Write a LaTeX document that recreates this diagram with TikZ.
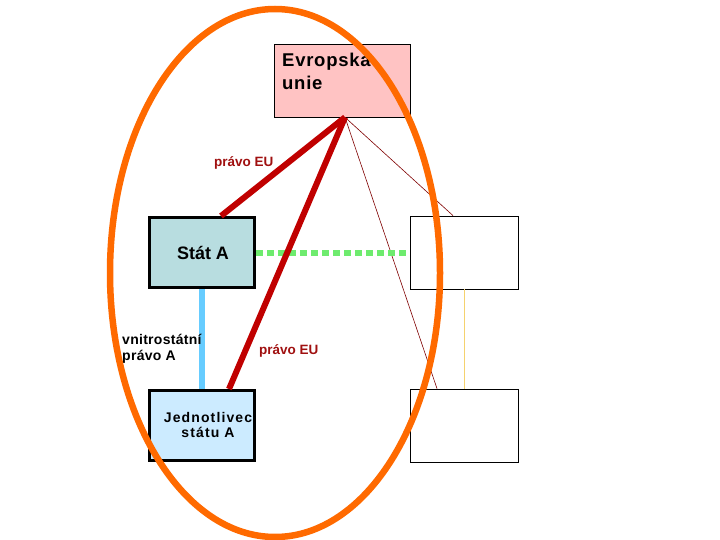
\documentclass[tikz,border=0pt]{standalone}
\usepackage{fontspec}
\setmainfont{Liberation Sans}
\begin{document}
\begin{tikzpicture}[x=1pt,y=-1pt,
  box/.style={draw=black,rectangle,inner sep=0pt},
  thickbox/.style={box,line width=3pt,minimum width=105pt,minimum height=70pt},
  thinbox/.style={box,line width=0.8pt,minimum width=108pt,minimum height=73pt,fill=white},
  redlink/.style={draw={rgb,255:red,192;green,0;blue,0},line width=6pt},
  thinlink/.style={draw={rgb,255:red,128;green,0;blue,0},line width=0.6pt},
  redlabel/.style={text={rgb,255:red,160;green,16;blue,16},font=\fontsize{13.5}{15}\selectfont\bfseries,anchor=base west,inner sep=0pt},
  blacklabel/.style={text=black,font=\fontsize{14}{16}\selectfont\bfseries\addfontfeature{LetterSpace=2},anchor=base west,inner sep=0pt}]
\useasboundingbox (0,0) rectangle (720,540);
\fill[white] (0,0) rectangle (720,540);
% boxes
\node[box,line width=0.6pt,fill={rgb,255:red,255;green,195;blue,195},minimum width=136pt,minimum height=73pt] (eu) at (342,80.5) {};
\node[thickbox,fill={rgb,255:red,184;green,221;blue,224}] (sa) at (202,252.5) {};
\node[thickbox,fill={rgb,255:red,204;green,235;blue,255}] (jed) at (202,425.5) {};
\node[thinbox] (r1) at (464,252.5) {};
\node[thinbox] (r2) at (464,425.5) {};
% box texts
\node[anchor=base west,inner sep=0pt,font=\fontsize{18.5}{20}\selectfont\bfseries\addfontfeature{LetterSpace=4}] (eut1) at (282,67) {Evropska};
\node[anchor=base west,inner sep=0pt,font=\fontsize{18.5}{20}\selectfont\bfseries\addfontfeature{LetterSpace=4}] (eut2) at (282,90) {unie};
\node[font=\fontsize{18}{20}\selectfont\bfseries,anchor=base,inner sep=0pt] (sat) at (203,259) {Stát A};
\node[font=\fontsize{14}{16}\selectfont\bfseries\addfontfeature{LetterSpace=8},align=center,inner sep=0pt] (jedt) at (208,425) {Jednotlivec\\[-1pt]státu A};
% connectors
\draw[thinlink] ([xshift=3pt]eu.south) -- ([xshift=-11pt]r1.north);
\draw[thinlink] ([xshift=3pt]eu.south) -- ([xshift=-27pt]r2.north);
\draw[line width=6pt,draw={rgb,255:red,102;green,204;blue,255}] (sa.south) -- (jed.north);
\draw[line width=6pt,draw={rgb,255:red,110;green,235;blue,110},dash pattern=on 7pt off 4pt] (sa.east) -- (r1.west);
\draw[redlink] ([xshift=3pt]eu.south) -- ([xshift=19pt]sa.north);
\draw[redlink] ([xshift=3pt]eu.south) -- ([xshift=27pt]jed.north);
\draw[line width=0.8pt,draw={rgb,255:red,245;green,210;blue,110}] (r1.south) -- (r2.north);
% labels
\node[redlabel] (l1) at (214,167) {právo EU};
\node[redlabel] (l2) at (259,354) {právo EU};
\node[blacklabel] (l3) at (122,344) {vnitrostátní};
\node[blacklabel] (l4) at (122,360) {právo A};
% ellipse
\draw[line width=6.5pt,draw={rgb,255:red,255;green,106;blue,0}] (275,273) ellipse [x radius=165, y radius=264];
\end{tikzpicture}
\end{document}
